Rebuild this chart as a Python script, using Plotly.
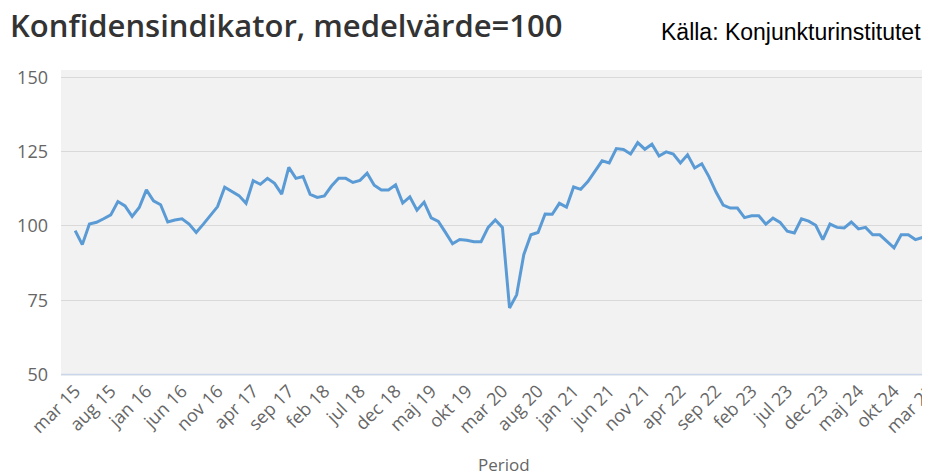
import plotly.graph_objects as go

tick_labels = ["mar 15", "aug 15", "jan 16", "jun 16", "nov 16", "apr 17", "sep 17",
               "feb 18", "jul 18", "dec 18", "maj 19", "okt 19", "mar 20", "aug 20",
               "jan 21", "jun 21", "nov 21", "apr 22", "sep 22", "feb 23", "jul 23",
               "dec 23", "maj 24", "okt 24", "mar 25"]

# monthly values, mar 15 .. mar 25
values = [
    98.4, 93.7, 100.6, 101.2, 102.4, 103.7, 108.2, 106.7, 103.2, 106.2,
    112.1, 108.4, 107.1, 101.3, 102.0, 102.4, 100.6, 97.8, 100.6, 103.4,
    106.5, 113.0, 111.5, 110.2, 107.6, 115.2, 114.0, 116.0, 114.3, 110.7,
    119.7, 116.0, 116.6, 110.6, 109.6, 110.1, 113.4, 116.0, 116.0, 114.6,
    115.3, 117.7, 113.7, 112.1, 112.1, 113.8, 107.7, 109.8, 105.3, 108.0,
    102.7, 101.5, 97.8, 94.0, 95.4, 95.2, 94.7, 94.7, 99.5, 102.0,
    99.5, 72.4, 76.8, 90.3, 97.0, 97.8, 104.0, 103.9, 107.6, 106.3,
    113.1, 112.3, 114.9, 118.3, 121.9, 121.2, 126.0, 125.7, 124.2, 128.0,
    125.8, 127.5, 123.5, 124.9, 124.2, 121.2, 123.9, 119.5, 120.9, 116.6,
    111.4, 107.0, 106.0, 106.0, 102.8, 103.4, 103.4, 100.6, 102.6, 101.2,
    98.2, 97.6, 102.4, 101.6, 100.2, 95.4, 100.6, 99.5, 99.3, 101.3,
    99.0, 99.5, 97.0, 97.0, 94.8, 92.6, 97.0, 97.0, 95.4, 96.2,
    96.8,
]

y_ticks = [50, 75, 100, 125, 150]

x_idx = list(range(len(values)))
tick_pos = list(range(0, len(values), 5))

# the page adds an 8px body margin, so work in page coords minus 8
OFF = 8
L, T, W, H = 61 - OFF, 70 - OFF, 869, 306.5


def px(xp):
    return (xp - OFF - L) / W


def py(yp):
    return (T + H - (yp - OFF)) / H


fig = go.Figure()
fig.add_trace(go.Scatter(
    x=x_idx, y=values, mode="lines",
    line=dict(color="#5b9bd5", width=3),
    hoverinfo="skip", showlegend=False,
))

fig.add_shape(type="line", xref="paper", yref="y", x0=0, x1=1, y0=50, y1=50,
              line=dict(color="#ccd6eb", width=1.5), layer="above")

fig.update_layout(
    width=930, height=476,
    margin=dict(l=L, r=930 - L - W, t=T, b=476 - T - H, autoexpand=False),
    paper_bgcolor="white",
    plot_bgcolor="#f2f2f2",
    font=dict(family="Open Sans", color="#666666"),
    xaxis=dict(range=[-1.99, 120.05], tickmode="array", tickvals=tick_pos,
               ticktext=tick_labels, tickangle=-45, showgrid=False, automargin=False,
               zeroline=False, showline=False, ticks="", ticklabeloverflow="allow",
               tickfont=dict(size=18, color="#666666", family="Open Sans")),
    yaxis=dict(range=[49.5, 152.45], tickmode="array", tickvals=y_ticks, automargin=False,
               showgrid=True, gridcolor="#d9d9d9", gridwidth=1,
               zeroline=False, showline=False, ticks="", ticklabelstandoff=12,
               tickfont=dict(size=18, color="#666666", family="Open Sans")),
    annotations=[
        dict(text="Konfidensindikator, medelvärde=100", xref="paper", yref="paper",
             x=px(8), y=py(25), xanchor="left", yanchor="middle",
             showarrow=False,
             font=dict(family="Open Sans", size=31, color="#333333", weight=600)),
        dict(text="Källa: Konjunkturinstitutet", xref="paper", yref="paper",
             x=px(923), y=py(32), xanchor="right", yanchor="middle",
             showarrow=False, font=dict(family="Liberation Sans", size=23, color="#000000")),
        dict(text="Period", xref="paper", yref="paper",
             x=px(503.5), y=py(465), xanchor="center", yanchor="middle",
             showarrow=False, font=dict(family="Open Sans", size=17, color="#666666")),
    ],
)

fig.write_html("out.html")
